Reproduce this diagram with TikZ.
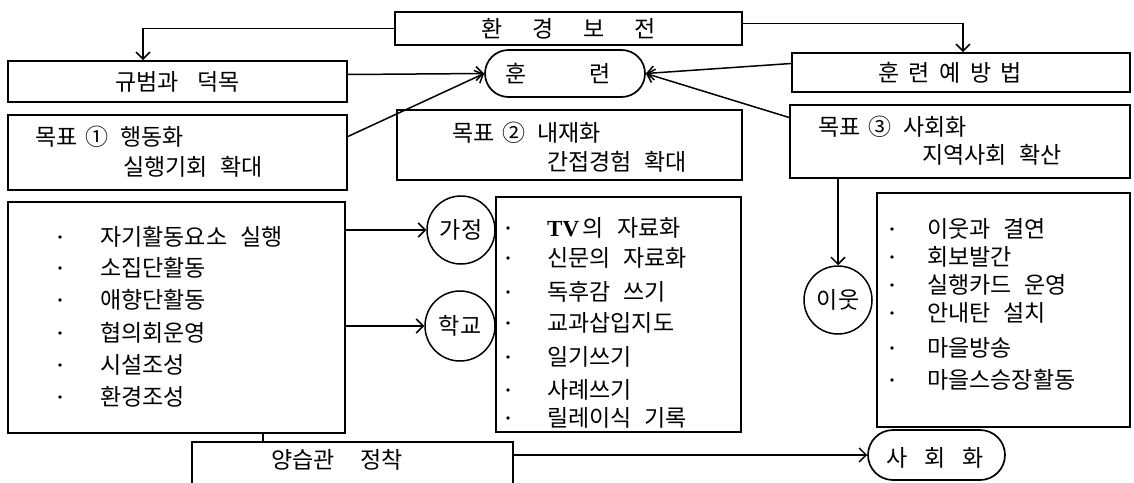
\documentclass[tikz,border=0pt]{standalone}
\usepackage{fontspec}
\setmainfont{Noto Sans CJK KR}[WordSpace=2.5]
\newfontfamily\latserif{Liberation Serif}
\usetikzlibrary{arrows.meta,shapes.misc}
\begin{document}
\begin{tikzpicture}[x=1pt,y=-1pt,
  every node/.style={font=\fontsize{23pt}{27pt}\selectfont, inner sep=0pt},
  boxnode/.style={draw, line width=1.8pt, rectangle},
  pill/.style={draw, line width=1.7pt, rounded rectangle},
  ring/.style={draw, line width=1.5pt, circle},
  conn/.style={line width=1.5pt},
  arr/.style={conn, -{Straight Barb[length=7pt,width=14pt,line width=1.5pt]}},
  lbl/.style={anchor=west},
  bul/.style={fill=black}
]
\useasboundingbox (0,0) rectangle (1134,482);
\fill[white] (0,0) rectangle (1134,482);

% top row
\node[boxnode, minimum width=347pt, minimum height=33pt] (top) at (568.5,28.5) {환\hspace{30pt}경\hspace{30pt}보\hspace{30pt}전};
\node[boxnode, minimum width=339pt, minimum height=41pt] (norm) at (177.5,81.5) {규범과\hspace{18pt}덕목};
\node[pill, minimum width=160pt, minimum height=47pt] (train) at (565,73.5) {};
\node (trainlbl) at (558,73.5) {훈\hspace{63pt}련};
\node[boxnode, minimum width=338pt, minimum height=39pt] (method) at (961,72.5) {};
\node (methodlbl) at (950,72.5) {훈\hspace{9.5pt}련\hspace{9.5pt}예\hspace{9.5pt}방\hspace{9.5pt}법};

% goals
\node[boxnode, minimum width=339pt, minimum height=75pt] (goal1) at (177.5,152.5) {};
\node[lbl] (g1a) at (35,137) {목표\hspace{8pt}①\hspace{12pt}행동화};
\node[lbl] (g1b) at (123,167) {실행기회 확대};
\node[boxnode, minimum width=345pt, minimum height=70pt] (goal2) at (569.5,145) {};
\node[lbl] (g2a) at (452,133) {목표\hspace{8pt}②\hspace{12pt}내재화};
\node[lbl] (g2b) at (547,162) {간접경험 확대};
\node[boxnode, minimum width=340pt, minimum height=73pt] (goal3) at (960,141.5) {};
\node[lbl] (g3a) at (818,127) {목표\hspace{8pt}③\hspace{12pt}사회화};
\node[lbl] (g3b) at (922,155) {지역사회 확산};

% lists
\node[boxnode, minimum width=337pt, minimum height=231pt] (list1) at (176.5,317.5) {};
\foreach \y/\t [count=\i] in {237/자기활동요소 실행, 268/소집단활동, 300/애향단활동, 333/협의회운영, 365/시설조성, 397/환경조성}{
  \fill[bul] (60,\y) circle (1.8);
  \node[lbl] (la\i) at (100,\y) {\t};
}
\node[boxnode, minimum width=245pt, minimum height=235pt] (list2) at (618.5,314.5) {};
\foreach \y/\t [count=\i] in {228/{{\latserif\bfseries TV}\,의 자료화}, 258/신문의 자료화, 292/독후감 쓰기, 323/교과삽입지도, 357/일기쓰기, 390/사례쓰기, 418/릴레이식 기록}{
  \fill[bul] (508,\y) circle (1.8);
  \node[lbl] (lb\i) at (547,\y) {\t};
}
\node[boxnode, minimum width=253pt, minimum height=234pt] (list3) at (1003.5,310) {};
\foreach \y/\t [count=\i] in {229/이웃과 결연, 257/회보발간, 285/실행카드 운영, 313/안내탄 설치, 348/마을방송, 380/마을스승장활동}{
  \fill[bul] (892,\y) circle (1.8);
  \node[lbl] (lc\i) at (927,\y) {\t};
}

% circles
\node[ring, minimum size=68pt] (c1) at (461,230) {가정};
\node[ring, minimum size=70pt] (c2) at (460,326) {학교};
\node[ring, minimum size=68pt] (c3) at (838,300) {이웃};

% bottom
\node[boxnode, minimum width=321pt, minimum height=46pt] (habit) at (352.5,465) {};
\node (habitlbl) at (337,460) {양습관\hspace{25pt}정착};
\node[pill, minimum width=137pt, minimum height=50pt] (social) at (936.5,455) {};
\node (sociallbl) at (935,458) {사\hspace{17pt}회\hspace{17pt}화};

% connectors
\draw[arr] (top.west) -| ([xshift=-34.5pt]norm.north);
\draw[arr] ([yshift=5pt]top.east) -| ([xshift=2pt]method.north);
\draw[arr] ([yshift=7pt]norm.east) -- (train.west);
\draw[arr] ([yshift=9pt]method.west) -- (train.east);
\draw[arr] ([yshift=16pt]goal1.east) -- (train.west);
\draw[arr] ([yshift=24pt]goal3.west) -- (train.east);
\draw[arr] (list1.east |- c1.west) -- (c1.west);
\draw[arr] (list1.east |- c2.west) -- (c2.west);
\draw[arr] (goal3.south -| c3.north) -- (c3.north);
\draw[conn] ([xshift=86.5pt]list1.south) -- ([xshift=86.5pt]list1.south |- habit.north);
\draw[arr] (habit.east |- social.west) -- (social.west);
\end{tikzpicture}
\end{document}
